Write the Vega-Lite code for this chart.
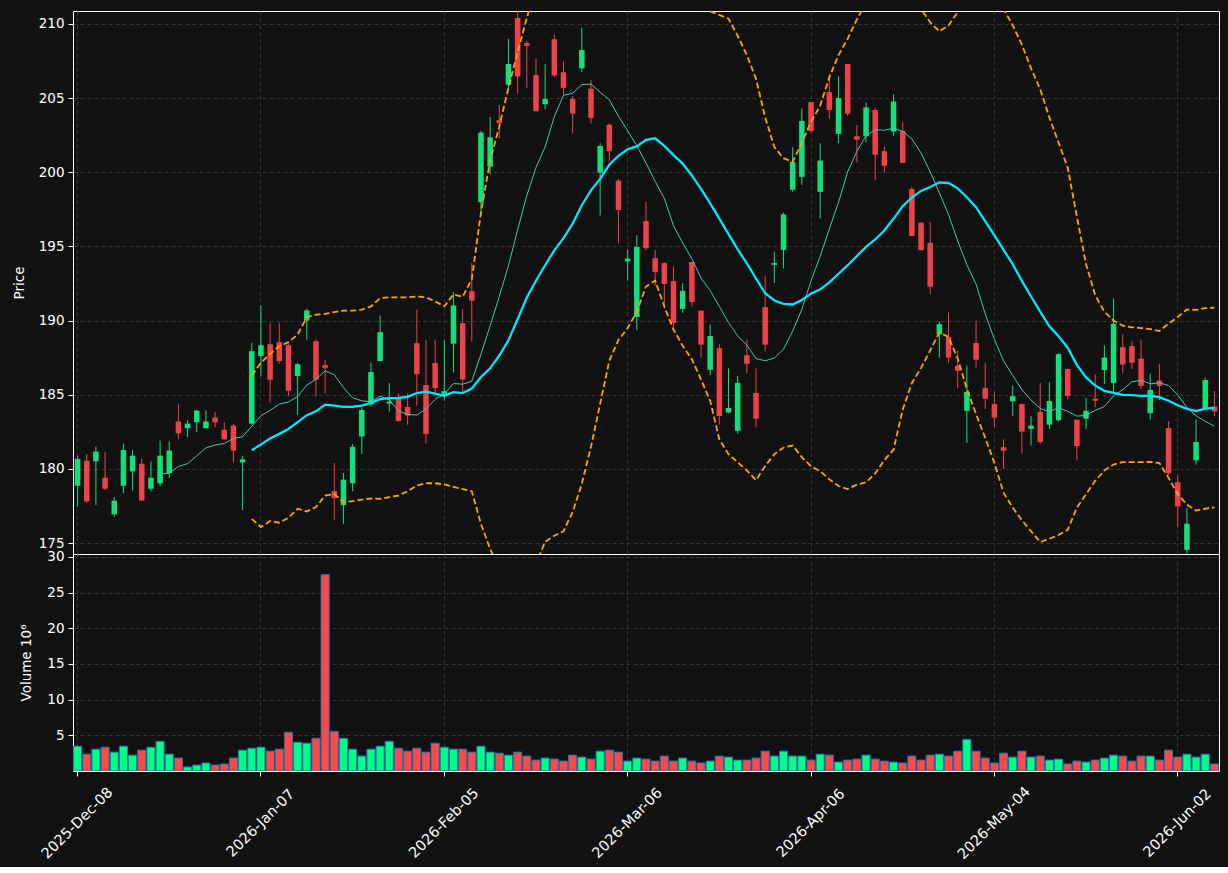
{
  "$schema": "https://vega.github.io/schema/vega-lite/v6.json",
  "background": "#111111",
  "padding": {"left": 11, "top": 10, "right": 10, "bottom": 5},
  "spacing": 0,
  "bounds": "flush",
  "datasets": {
    "p": [
      {"d":"2025-12-08","o":178.87,"h":180.9,"l":177.45,"c":180.68,"v":3.47},
      {"d":"2025-12-09","o":180.56,"h":181.01,"l":177.7,"c":177.82,"v":2.36},
      {"d":"2025-12-10","o":180.52,"h":181.51,"l":177.57,"c":181.17,"v":3.06},
      {"d":"2025-12-11","o":179.41,"h":181.17,"l":178.58,"c":178.67,"v":3.33},
      {"d":"2025-12-12","o":176.94,"h":178.11,"l":176.76,"c":177.86,"v":2.64},
      {"d":"2025-12-15","o":178.87,"h":181.71,"l":178.36,"c":181.28,"v":3.47},
      {"d":"2025-12-16","o":179.84,"h":181.28,"l":178.54,"c":180.9,"v":2.22},
      {"d":"2025-12-17","o":180.36,"h":180.68,"l":177.85,"c":177.88,"v":2.92},
      {"d":"2025-12-18","o":178.67,"h":180.5,"l":178.51,"c":179.41,"v":3.33},
      {"d":"2025-12-19","o":179.03,"h":181.91,"l":178.85,"c":180.9,"v":4.16},
      {"d":"2025-12-22","o":179.73,"h":181.85,"l":179.39,"c":181.24,"v":2.36},
      {"d":"2025-12-23","o":183.2,"h":184.35,"l":182.0,"c":182.41,"v":1.81},
      {"d":"2025-12-24","o":182.75,"h":183.31,"l":182.14,"c":183.06,"v":0.56},
      {"d":"2025-12-26","o":183.15,"h":183.96,"l":182.48,"c":183.94,"v":0.84},
      {"d":"2025-12-29","o":182.75,"h":183.94,"l":182.75,"c":183.2,"v":1.12},
      {"d":"2025-12-30","o":183.47,"h":183.85,"l":182.82,"c":183.15,"v":0.84},
      {"d":"2025-12-31","o":182.64,"h":183.15,"l":181.95,"c":182.0,"v":0.98},
      {"d":"2026-01-02","o":182.93,"h":183.04,"l":180.45,"c":181.24,"v":1.81},
      {"d":"2026-01-05","o":180.45,"h":180.9,"l":177.23,"c":180.65,"v":2.92},
      {"d":"2026-01-06","o":183.06,"h":188.5,"l":183.0,"c":187.94,"v":3.19,"bu":186.3,"bl":176.64},
      {"d":"2026-01-07","o":187.61,"h":191.03,"l":186.26,"c":188.34,"v":3.33,"bu":187.16,"bl":176.09},
      {"d":"2026-01-08","o":188.41,"h":189.87,"l":184.5,"c":186.02,"v":2.78,"bu":187.76,"bl":176.49},
      {"d":"2026-01-09","o":188.55,"h":189.87,"l":187.11,"c":187.27,"v":3.06,"bu":188.28,"bl":176.38},
      {"d":"2026-01-12","o":188.34,"h":188.46,"l":184.9,"c":185.28,"v":5.41,"bu":188.55,"bl":176.71},
      {"d":"2026-01-13","o":186.26,"h":187.16,"l":183.65,"c":187.07,"v":4.03,"bu":189.06,"bl":177.32},
      {"d":"2026-01-14","o":190.0,"h":190.81,"l":188.72,"c":190.69,"v":3.89,"bu":190.22,"bl":177.14},
      {"d":"2026-01-15","o":188.61,"h":188.72,"l":184.9,"c":186.02,"v":4.58,"bu":190.4,"bl":177.43},
      {"d":"2026-01-16","o":187.0,"h":187.36,"l":185.1,"c":186.82,"v":27.5,"bu":190.45,"bl":178.21},
      {"d":"2026-01-20","o":178.5,"h":180.4,"l":176.58,"c":178.05,"v":5.55,"bu":190.58,"bl":178.32},
      {"d":"2026-01-21","o":177.56,"h":179.73,"l":176.31,"c":179.28,"v":4.58,"bu":190.67,"bl":177.76},
      {"d":"2026-01-22","o":179.04,"h":181.68,"l":178.5,"c":181.5,"v":3.06,"bu":190.67,"bl":177.83},
      {"d":"2026-01-23","o":182.19,"h":184.14,"l":181.01,"c":183.98,"v":2.09,"bu":190.74,"bl":177.94},
      {"d":"2026-01-26","o":184.36,"h":187.18,"l":184.21,"c":186.53,"v":3.06,"bu":190.96,"bl":178.01},
      {"d":"2026-01-27","o":187.27,"h":190.34,"l":187.27,"c":189.22,"v":3.47,"bu":191.52,"bl":177.99},
      {"d":"2026-01-28","o":184.41,"h":185.79,"l":183.87,"c":184.54,"v":4.16,"bu":191.57,"bl":178.1},
      {"d":"2026-01-29","o":184.77,"h":185.1,"l":183.2,"c":183.24,"v":3.19,"bu":191.57,"bl":178.21},
      {"d":"2026-01-30","o":184.18,"h":185.1,"l":182.98,"c":183.6,"v":2.78,"bu":191.57,"bl":178.5},
      {"d":"2026-02-02","o":188.48,"h":190.74,"l":184.27,"c":186.4,"v":3.19,"bu":191.63,"bl":178.88},
      {"d":"2026-02-03","o":185.66,"h":188.72,"l":181.72,"c":182.37,"v":2.64,"bu":191.57,"bl":179.04},
      {"d":"2026-02-04","o":187.14,"h":188.72,"l":185.12,"c":185.46,"v":3.89,"bu":191.3,"bl":179.04},
      {"d":"2026-02-05","o":185.05,"h":188.7,"l":184.6,"c":185.25,"v":3.33,"bu":190.96,"bl":178.96},
      {"d":"2026-02-06","o":188.45,"h":191.94,"l":186.5,"c":191.02,"v":3.06,"bu":191.77,"bl":178.8},
      {"d":"2026-02-09","o":189.83,"h":190.79,"l":185.21,"c":186.03,"v":3.06,"bu":191.61,"bl":178.65},
      {"d":"2026-02-10","o":191.98,"h":193.88,"l":188.61,"c":191.35,"v":2.64,"bu":192.8,"bl":178.5},
      {"d":"2026-02-11","o":197.98,"h":202.78,"l":197.04,"c":202.67,"v":3.47,"bu":197.3,"bl":176.3},
      {"d":"2026-02-12","o":200.37,"h":203.72,"l":199.85,"c":202.36,"v":2.64,"bu":200.8,"bl":174.6},
      {"d":"2026-02-13","o":203.51,"h":204.54,"l":202.31,"c":203.32,"v":2.5,"bu":203.1,"bl":173.3},
      {"d":"2026-02-17","o":205.9,"h":208.99,"l":205.59,"c":207.3,"v":2.22,"bu":205.7,"bl":172.3},
      {"d":"2026-02-18","o":210.4,"h":211.3,"l":205.31,"c":206.46,"v":2.64,"bu":208.1,"bl":171.8},
      {"d":"2026-02-19","o":208.71,"h":208.87,"l":205.66,"c":208.52,"v":2.09,"bu":210.4,"bl":172.2},
      {"d":"2026-02-20","o":206.55,"h":207.68,"l":204.07,"c":204.12,"v":1.53,"bu":212.6,"bl":173.6},
      {"d":"2026-02-23","o":204.59,"h":207.28,"l":204.24,"c":204.94,"v":1.81,"bu":214.4,"bl":175.1},
      {"d":"2026-02-24","o":208.97,"h":209.29,"l":206.41,"c":206.53,"v":1.67,"bu":215.8,"bl":175.5},
      {"d":"2026-02-25","o":206.74,"h":207.47,"l":205.24,"c":205.69,"v":1.39,"bu":216.8,"bl":175.8},
      {"d":"2026-02-26","o":204.94,"h":205.13,"l":202.62,"c":203.96,"v":2.22,"bu":217.4,"bl":177.1},
      {"d":"2026-02-27","o":207.0,"h":209.73,"l":206.74,"c":208.24,"v":1.95,"bu":217.8,"bl":179.0},
      {"d":"2026-03-02","o":205.64,"h":206.23,"l":203.29,"c":203.67,"v":1.67,"bu":218.0,"bl":181.5},
      {"d":"2026-03-03","o":199.97,"h":201.96,"l":197.09,"c":201.77,"v":2.78,"bu":217.9,"bl":184.4},
      {"d":"2026-03-04","o":203.2,"h":203.29,"l":200.74,"c":201.42,"v":2.92,"bu":217.5,"bl":187.3},
      {"d":"2026-03-05","o":199.43,"h":199.55,"l":195.22,"c":197.46,"v":2.64,"bu":216.9,"bl":188.7},
      {"d":"2026-03-06","o":193.99,"h":194.79,"l":192.71,"c":194.18,"v":1.39,"bu":216.1,"bl":189.5},
      {"d":"2026-03-09","o":190.25,"h":195.75,"l":189.36,"c":194.96,"v":1.81,"bu":215.3,"bl":190.6},
      {"d":"2026-03-10","o":196.71,"h":198.03,"l":194.75,"c":194.89,"v":1.67,"bu":214.4,"bl":192.3},
      {"d":"2026-03-11","o":194.21,"h":194.77,"l":192.36,"c":193.29,"v":1.39,"bu":213.6,"bl":192.7},
      {"d":"2026-03-12","o":193.88,"h":193.95,"l":190.95,"c":192.47,"v":2.09,"bu":212.9,"bl":190.95},
      {"d":"2026-03-13","o":192.66,"h":193.65,"l":189.55,"c":189.85,"v":1.39,"bu":212.3,"bl":189.4},
      {"d":"2026-03-16","o":190.79,"h":192.52,"l":190.53,"c":192.01,"v":1.81,"bu":211.8,"bl":188.3},
      {"d":"2026-03-17","o":193.95,"h":193.95,"l":190.95,"c":191.26,"v":1.39,"bu":211.4,"bl":187.4},
      {"d":"2026-03-18","o":190.67,"h":190.72,"l":187.51,"c":188.38,"v":1.12,"bu":211.1,"bl":186.03},
      {"d":"2026-03-19","o":186.69,"h":189.73,"l":186.31,"c":188.96,"v":1.39,"bu":210.85,"bl":184.6},
      {"d":"2026-03-20","o":188.14,"h":188.42,"l":182.99,"c":183.57,"v":2.09,"bu":210.6,"bl":182.0},
      {"d":"2026-03-23","o":183.81,"h":186.78,"l":183.74,"c":184.11,"v":1.95,"bu":210.35,"bl":181.0},
      {"d":"2026-03-24","o":182.57,"h":186.27,"l":182.4,"c":185.8,"v":1.53,"bu":209.2,"bl":180.45},
      {"d":"2026-03-25","o":187.67,"h":188.73,"l":186.45,"c":187.09,"v":1.53,"bu":207.9,"bl":179.9},
      {"d":"2026-03-26","o":185.12,"h":186.78,"l":182.8,"c":183.39,"v":1.81,"bu":206.3,"bl":179.24},
      {"d":"2026-03-27","o":190.91,"h":192.99,"l":187.91,"c":188.38,"v":2.78,"bu":203.7,"bl":180.2},
      {"d":"2026-03-30","o":193.76,"h":194.65,"l":192.55,"c":193.88,"v":2.09,"bu":201.7,"bl":181.0},
      {"d":"2026-03-31","o":194.77,"h":197.28,"l":193.53,"c":197.16,"v":2.78,"bu":200.95,"bl":181.45},
      {"d":"2026-04-01","o":198.82,"h":201.68,"l":198.68,"c":200.7,"v":2.09,"bu":200.7,"bl":181.58},
      {"d":"2026-04-02","o":199.69,"h":204.3,"l":199.15,"c":203.46,"v":2.09,"bu":202.0,"bl":180.8},
      {"d":"2026-04-06","o":204.73,"h":204.73,"l":202.66,"c":202.78,"v":1.53,"bu":203.4,"bl":180.18},
      {"d":"2026-04-07","o":198.68,"h":201.96,"l":196.88,"c":200.79,"v":2.36,"bu":204.5,"bl":179.85},
      {"d":"2026-04-08","o":205.4,"h":206.65,"l":203.6,"c":204.19,"v":2.22,"bu":206.4,"bl":179.3},
      {"d":"2026-04-09","o":202.59,"h":206.46,"l":201.96,"c":205.01,"v":1.25,"bu":207.9,"bl":178.85},
      {"d":"2026-04-10","o":207.3,"h":207.3,"l":203.79,"c":203.95,"v":1.53,"bu":209.0,"bl":178.65},
      {"d":"2026-04-13","o":202.43,"h":203.18,"l":200.67,"c":202.2,"v":1.67,"bu":210.3,"bl":178.95},
      {"d":"2026-04-14","o":202.43,"h":204.7,"l":202.01,"c":204.37,"v":2.22,"bu":211.4,"bl":179.1},
      {"d":"2026-04-15","o":204.19,"h":204.35,"l":199.46,"c":201.19,"v":1.67,"bu":212.3,"bl":179.7},
      {"d":"2026-04-16","o":201.42,"h":201.73,"l":199.97,"c":200.44,"v":1.39,"bu":212.9,"bl":180.6},
      {"d":"2026-04-17","o":202.74,"h":205.24,"l":202.43,"c":204.77,"v":1.25,"bu":213.1,"bl":181.3},
      {"d":"2026-04-20","o":202.78,"h":203.37,"l":200.63,"c":200.63,"v":1.12,"bu":212.8,"bl":184.0},
      {"d":"2026-04-21","o":198.87,"h":199.03,"l":195.71,"c":195.71,"v":2.09,"bu":212.0,"bl":185.8},
      {"d":"2026-04-22","o":196.6,"h":196.64,"l":194.75,"c":194.75,"v":1.53,"bu":211.0,"bl":186.8},
      {"d":"2026-04-23","o":195.24,"h":196.64,"l":191.77,"c":192.29,"v":2.22,"bu":210.1,"bl":188.0},
      {"d":"2026-04-24","o":189.08,"h":189.94,"l":187.51,"c":189.76,"v":2.36,"bu":209.5,"bl":189.2},
      {"d":"2026-04-27","o":188.89,"h":190.55,"l":187.16,"c":187.51,"v":2.09,"bu":209.9,"bl":188.9},
      {"d":"2026-04-28","o":186.97,"h":187.98,"l":185.45,"c":186.62,"v":2.78,"bu":210.8,"bl":187.44},
      {"d":"2026-04-29","o":183.92,"h":186.97,"l":181.75,"c":185.19,"v":4.44,"bu":211.6,"bl":185.4},
      {"d":"2026-04-30","o":188.49,"h":190.02,"l":186.85,"c":187.37,"v":2.78,"bu":212.2,"bl":183.7},
      {"d":"2026-05-01","o":185.45,"h":187.16,"l":184.04,"c":184.74,"v":1.81,"bu":212.4,"bl":182.1},
      {"d":"2026-05-04","o":184.37,"h":185.17,"l":182.82,"c":183.46,"v":1.12,"bu":212.0,"bl":180.41},
      {"d":"2026-05-05","o":181.47,"h":182.0,"l":179.99,"c":181.23,"v":2.5,"bu":211.0,"bl":178.4},
      {"d":"2026-05-06","o":184.56,"h":185.63,"l":183.57,"c":184.91,"v":1.95,"bu":209.9,"bl":177.4},
      {"d":"2026-05-07","o":184.37,"h":184.4,"l":181.04,"c":182.52,"v":2.78,"bu":208.6,"bl":176.55},
      {"d":"2026-05-08","o":182.71,"h":183.57,"l":181.58,"c":182.92,"v":1.95,"bu":207.0,"bl":175.8},
      {"d":"2026-05-11","o":183.85,"h":185.8,"l":181.7,"c":181.82,"v":2.09,"bu":205.6,"bl":175.07},
      {"d":"2026-05-12","o":182.99,"h":185.85,"l":182.68,"c":184.58,"v":1.53,"bu":203.7,"bl":175.3},
      {"d":"2026-05-13","o":183.29,"h":187.79,"l":183.2,"c":187.74,"v":1.67,"bu":202.0,"bl":175.55},
      {"d":"2026-05-14","o":186.74,"h":186.74,"l":184.7,"c":184.93,"v":0.98,"bu":200.3,"bl":175.9},
      {"d":"2026-05-15","o":183.32,"h":183.32,"l":180.58,"c":181.54,"v":1.39,"bu":197.0,"bl":177.4},
      {"d":"2026-05-18","o":183.39,"h":184.79,"l":182.68,"c":183.92,"v":1.25,"bu":193.8,"bl":178.3},
      {"d":"2026-05-19","o":184.74,"h":186.38,"l":184.16,"c":184.6,"v":1.53,"bu":191.7,"bl":179.2},
      {"d":"2026-05-20","o":186.67,"h":188.33,"l":185.73,"c":187.51,"v":1.81,"bu":190.6,"bl":179.9},
      {"d":"2026-05-21","o":185.8,"h":191.49,"l":185.1,"c":189.78,"v":2.22,"bu":190.0,"bl":180.3},
      {"d":"2026-05-22","o":188.21,"h":189.08,"l":186.45,"c":187.04,"v":2.09,"bu":189.66,"bl":180.46},
      {"d":"2026-05-26","o":188.28,"h":188.61,"l":186.74,"c":187.16,"v":1.39,"bu":189.55,"bl":180.46},
      {"d":"2026-05-27","o":187.44,"h":188.73,"l":185.38,"c":185.61,"v":2.09,"bu":189.5,"bl":180.46},
      {"d":"2026-05-28","o":183.76,"h":186.43,"l":183.34,"c":185.33,"v":2.09,"bu":189.43,"bl":180.48},
      {"d":"2026-05-29","o":185.96,"h":187.09,"l":184.63,"c":185.61,"v":1.53,"bu":189.3,"bl":180.4},
      {"d":"2026-06-01","o":182.75,"h":183.22,"l":179.6,"c":179.71,"v":2.92,"bu":189.8,"bl":179.4},
      {"d":"2026-06-02","o":179.12,"h":179.59,"l":176.08,"c":177.48,"v":1.95,"bu":190.25,"bl":178.3},
      {"d":"2026-06-03","o":174.55,"h":177.37,"l":174.3,"c":176.31,"v":2.36,"bu":190.75,"bl":177.6},
      {"d":"2026-06-04","o":180.58,"h":183.34,"l":180.29,"c":181.82,"v":1.95,"bu":190.72,"bl":177.2},
      {"d":"2026-06-05","o":184.04,"h":186.15,"l":184.04,"c":185.99,"v":2.36,"bu":190.84,"bl":177.32},
      {"d":"2026-06-08","o":184.21,"h":185.26,"l":183.57,"c":183.88,"v":0.98,"bu":190.88,"bl":177.41}
    ]
  },
  "vconcat": [
    {
      "width": 1146,
      "height": 543,
      "data": {"name": "p"},
      "encoding": {
        "x": {
          "field": "d", "type": "ordinal",
          "scale": {"paddingInner": 0, "paddingOuter": 0},
          "axis": {
            "values": ["2025-12-08","2026-01-07","2026-02-05","2026-03-06","2026-04-06","2026-05-04","2026-06-02"],
            "labels": false, "ticks": false, "domain": false, "grid": true, "bandPosition": 0.5, "title": null,
            "minExtent": 0, "maxExtent": 0, "offset": 0, "labelPadding": 0
          }
        }
      },
      "layer": [
        {
          "mark": {"type": "rule", "clip": true, "strokeWidth": 1},
          "encoding": {
            "y": {
              "field": "l", "type": "quantitative", "title": "Price",
              "scale": {"domain": [174.27, 210.87], "zero": false, "nice": false},
              "axis": {"values": [175,180,185,190,195,200,205,210], "titleX": -54, "titleBaseline": "middle"}
            },
            "y2": {"field": "h"},
            "color": {"condition": {"test": "datum.c >= datum.o", "value": "#12E07C"}, "value": "#EE4249"}
          }
        },
        {
          "mark": {"type": "bar", "clip": true, "width": {"band": 0.6}},
          "encoding": {
            "y": {"field": "o", "type": "quantitative", "title": "Price"},
            "y2": {"field": "c"},
            "color": {"condition": {"test": "datum.c >= datum.o", "value": "#12E07C"}, "value": "#EE4249"}
          }
        },
        {
          "mark": {"type": "line", "clip": true, "color": "#FFA500", "strokeWidth": 1.8, "strokeDash": [6, 3]},
          "encoding": {"y": {"field": "bu", "type": "quantitative", "title": "Price"}}
        },
        {
          "mark": {"type": "line", "clip": true, "color": "#FFA500", "strokeWidth": 1.8, "strokeDash": [6, 3]},
          "encoding": {"y": {"field": "bl", "type": "quantitative", "title": "Price"}}
        },
        {
          "transform": [
            {"window": [{"op": "mean", "field": "c", "as": "ma10"}, {"op": "count", "as": "n10"}], "frame": [-9, 0], "sort": [{"field": "d"}]},
            {"filter": "datum.n10 >= 10"}
          ],
          "mark": {"type": "line", "clip": true, "color": "#45C8B4", "strokeWidth": 1},
          "encoding": {"y": {"field": "ma10", "type": "quantitative", "title": "Price"}}
        },
        {
          "transform": [
            {"window": [{"op": "mean", "field": "c", "as": "ma20"}, {"op": "count", "as": "n20"}], "frame": [-19, 0], "sort": [{"field": "d"}]},
            {"filter": "datum.n20 >= 20"}
          ],
          "mark": {"type": "line", "clip": true, "color": "#00E8FF", "strokeWidth": 2.3},
          "encoding": {"y": {"field": "ma20", "type": "quantitative", "title": "Price"}}
        }
      ]
    },
    {
      "width": 1146,
      "height": 217,
      "data": {"name": "p"},
      "mark": {"type": "bar", "width": {"band": 0.88}, "stroke": "#1F77B4", "strokeWidth": 1, "clip": true},
      "encoding": {
        "x": {
          "field": "d", "type": "ordinal",
          "scale": {"paddingInner": 0, "paddingOuter": 0},
          "axis": {
            "values": ["2025-12-08","2026-01-07","2026-02-05","2026-03-06","2026-04-06","2026-05-04","2026-06-02"],
            "labelExpr": "utcFormat(toDate(datum.value), '%Y-%b-%d')",
            "labelAngle": -45, "labelAlign": "center", "labelBaseline": "middle",
            "labelFontSize": 14.5,
            "labelPadding": 47, "labelOverlap": false, "labelBound": false, "labelFlush": false,
            "grid": true, "bandPosition": 0.5, "title": null, "domain": false
          }
        },
        "y": {
          "field": "v", "type": "quantitative", "title": "Volume  10⁶",
          "scale": {"domain": [0, 30.4], "zero": false, "nice": false},
          "axis": {"values": [5,10,15,20,25,30], "titleX": -47, "titleBaseline": "middle"}
        },
        "color": {"condition": {"test": "datum.c >= datum.o", "value": "#00FF85"}, "value": "#FF4848"}
      }
    }
  ],
  "config": {
    "view": {"stroke": "#FFFFFF", "strokeWidth": 1},
    "axis": {
      "domain": false,
      "labelColor": "#FFFFFF", "titleColor": "#FFFFFF", "tickColor": "#FFFFFF",
      "tickSize": 5, "labelPadding": 4,
      "labelFont": "DejaVu Sans", "titleFont": "DejaVu Sans",
      "labelFontSize": 13.5, "titleFontSize": 13.5, "titleFontWeight": "normal",
      "gridColor": "#3C3C3C", "gridDash": [4, 3], "gridWidth": 0.8
    }
  }
}
